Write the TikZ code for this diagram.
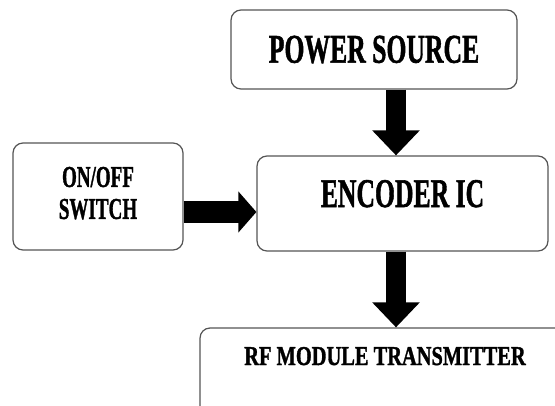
\documentclass[tikz,border=0pt]{standalone}
\usepackage{fontspec}
\usepackage{graphicx}
\usetikzlibrary{arrows.meta}
\setmainfont{Liberation Serif}[BoldFeatures={FakeBold=1.5}]
\definecolor{boxgray}{RGB}{85,85,85}
\newcommand{\narrowtext}[2][0.63]{\scalebox{#1}[1]{#2}}

\begin{document}
\begin{tikzpicture}[
        x=0.02cm, y=-0.02cm,
        block/.style={rectangle, draw=boxgray, line width=0.7pt, rounded corners=0.2cm, text centered, font=\bfseries\fontsize{23.2}{24}\selectfont},
        small_block/.style={block, font=\bfseries\fontsize{17.2}{18.2}\selectfont},
        rf_block/.style={block, font=\bfseries\fontsize{15.5}{16}\selectfont},
        down_arrow/.style={line width=0.4cm, -{Triangle[width=0.92cm, length=0.5cm]}},
        side_arrow/.style={line width=0.44cm, -{Triangle[width=0.8cm, length=0.36cm]}}
    ]

        % frame of the picture
        \useasboundingbox (0,0) rectangle (555,406);
        \clip (0,0) rectangle (555,406);

        % Blocks
        \node[block, minimum width=5.72cm, minimum height=1.58cm] (power) at (374,49.5) {\narrowtext{POWER SOURCE}};
        \node[block, minimum width=5.82cm, minimum height=1.9cm, text height=0.54cm, text depth=0.4cm] (encoder) at (402.5,203.5) {\narrowtext{ENCODER IC}};
        \node[small_block, minimum width=3.4cm, minimum height=2.14cm] (switch) at (98,196.5) {\narrowtext{\begin{tabular}{@{}c@{}}ON/OFF\\SWITCH\end{tabular}}};
        \node[rf_block, minimum width=7.4cm, minimum height=2.24cm, text height=0.36cm, text depth=1.12cm] (rf) at (385,384) {\narrowtext[0.75]{RF MODULE TRANSMITTER}};

        % Arrows
        \draw[down_arrow] ([xshift=0.44cm]power.south) -- ([xshift=0.44cm]power.south |- encoder.north);
        \draw[side_arrow] ([yshift=-0.31cm]switch.east) -- ([yshift=-0.31cm]switch.east -| encoder.west);
        \draw[down_arrow] ([xshift=-0.13cm]encoder.south) -- ([xshift=-0.13cm]encoder.south |- rf.north);

    \end{tikzpicture}
\end{document}
